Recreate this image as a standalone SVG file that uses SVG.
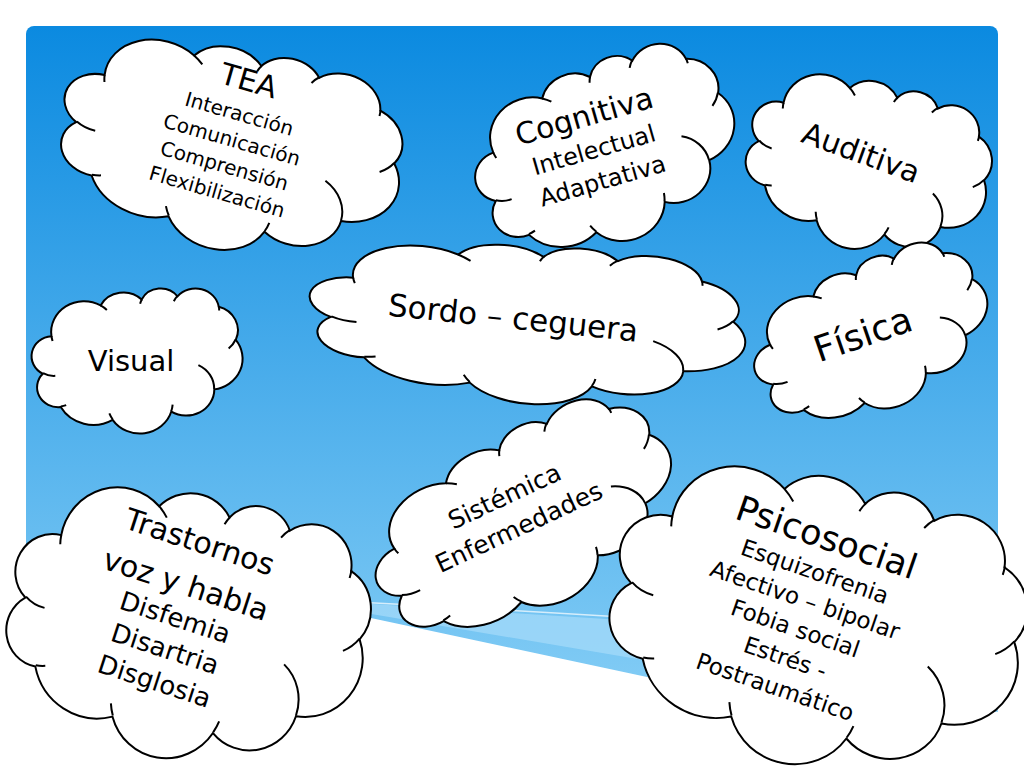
<svg xmlns="http://www.w3.org/2000/svg" xmlns:xlink="http://www.w3.org/1999/xlink" width="1024" height="768" viewBox="0 0 1024 768">
<style>
.t{font-family:"DejaVu Sans","Liberation Sans",sans-serif;fill:#000;text-anchor:middle}
</style>
<defs>
<linearGradient id="bg" gradientUnits="userSpaceOnUse" x1="0" y1="26" x2="0" y2="690">
<stop offset="0" stop-color="#0b8ae0"/>
<stop offset="1" stop-color="#82ccf5"/>
</linearGradient>
<g id="cloud">
<path fill="#fff" stroke="#000" stroke-width="2" vector-effect="non-scaling-stroke" d="M9.03,33.26 A15.63,21.27 0 0 1 32.42,12.04 A12.34,16.82 0 0 1 51.98,7.95 A10.10,13.76 0 0 1 69.06,5.74 A11.24,15.27 0 0 1 88.70,12.91 A12.34,16.84 0 0 1 96.80,35.79 A15.68,21.34 0 0 1 86.58,69.91 A13.39,18.21 0 0 1 66.10,85.22 A15.63,21.33 0 0 1 38.15,90.90 A17.87,24.41 0 0 1 13.44,82.11 A10.09,13.70 0 0 1 4.89,59.15 A10.06,13.76 0 0 1 9.03,33.26 Z"/>
<path fill="none" stroke="#000" stroke-width="2" vector-effect="non-scaling-stroke" d="M10.86,60.60 A10.06,13.76 0 0 1 5.00,58.75 M16.04,80.78 A10.09,13.70 0 0 1 13.47,81.67 M38.14,90.49 A15.63,21.33 0 0 1 36.59,86.45 M66.73,80.44 A15.63,21.33 0 0 1 66.11,84.86 M79.00,53.13 A13.39,18.21 0 0 1 86.53,69.65 M96.75,35.54 A12.34,16.84 0 0 1 93.40,41.74 M88.71,12.56 A11.24,15.27 0 0 1 88.89,15.49 M67.31,9.15 A11.24,15.27 0 0 1 69.03,5.42 M51.25,10.93 A10.10,13.76 0 0 1 52.08,7.71 M32.41,12.02 A15.63,21.27 0 0 1 35.41,15.14 M9.55,36.55 A15.63,21.27 0 0 1 9.03,33.27"/>
</g>
</defs>

<g id="background">
<rect x="0" y="0" width="1024" height="768" fill="#fff"/>
<rect x="26" y="26" width="972" height="760" rx="8" fill="url(#bg)"/>
<path d="M277,598 L998,644 L998,720 L277,598 Z" fill="#a6dbf9" opacity="0.7"/>
<path d="M277,598 Q480,608 700,622" fill="none" stroke="#fff" stroke-width="1.5" opacity="0.7"/>
<path d="M20,543 L647,677 Q820,714 1000,712 L1000,768 L20,768 Z" fill="#fff"/>
</g>

<g id="connectors"></g>

<g id="tea" transform="translate(230,146.5) rotate(16)">
<use xlink:href="#cloud" transform="translate(-171.4,-102.3) scale(3.45,2.05)"/>
<text class="t" font-size="30" x="0" y="-58">TEA</text>
<text class="t" font-size="20" x="0" y="-27">Interacción</text>
<text class="t" font-size="20" x="0" y="0">Comunicación</text>
<text class="t" font-size="20" x="0" y="27">Comprensión</text>
<text class="t" font-size="20" x="0" y="54">Flexibilización</text>
</g>

<g id="cognitiva" transform="translate(596,158) rotate(-16)">
<use xlink:href="#cloud" transform="translate(-121.2,-94) scale(2.65,1.82)"/>
<text class="t" font-size="30" x="0" y="-33">Cognitiva</text>
<text class="t" font-size="24" x="0" y="0">Intelectual</text>
<text class="t" font-size="24" x="0" y="32">Adaptativa</text>
</g>

<g id="auditiva" transform="translate(857.5,162.5) rotate(20)">
<use xlink:href="#cloud" transform="translate(-112.1,-88.1) scale(2.45,1.72)"/>
<text class="t" font-size="30" x="0" y="0">Auditiva</text>
</g>

<g id="sordoceguera" transform="translate(512,328.5) rotate(6)">
<use xlink:href="#cloud" transform="translate(-202.7,-87.2) scale(4.36,1.6)"/>
<text class="t" font-size="31" x="0" y="0">Sordo – ceguera</text>
</g>

<g id="visual" transform="translate(131,371)">
<use xlink:href="#cloud" transform="translate(-98.5,-83) scale(2.1,1.45)"/>
<text class="t" font-size="29" x="0" y="0">Visual</text>
</g>

<g id="fisica" transform="translate(867,346) rotate(-19)">
<use xlink:href="#cloud" transform="translate(-113.05,-82.3) scale(2.42,1.49)"/>
<text class="t" font-size="36" x="0" y="0">Física</text>
</g>

<g id="sistemica" transform="translate(522.5,535) rotate(-25)">
<use xlink:href="#cloud" transform="translate(-150.6,-100.6) scale(3.18,1.77)"/>
<text class="t" font-size="25" x="0" y="-34">Sistémica</text>
<text class="t" font-size="25" x="0" y="0">Enfermedades</text>
</g>

<g id="trastornos" transform="translate(172.5,626) rotate(18)">
<use xlink:href="#cloud" transform="translate(-166.4,-142.5) scale(3.6,2.72)"/>
<text class="t" font-size="30" x="0" y="-78">Trastornos</text>
<text class="t" font-size="30" x="0" y="-33">voz y habla</text>
<text class="t" font-size="26" x="0" y="0">Disfemia</text>
<text class="t" font-size="26" x="0" y="33">Disartria</text>
<text class="t" font-size="26" x="0" y="67">Disglosia</text>
</g>

<g id="psicosocial" transform="translate(802.5,607.5) rotate(19)">
<use xlink:href="#cloud" transform="translate(-190.2,-141.8) scale(4.15,2.95)"/>
<text class="t" font-size="35" x="0" y="-62">Psicosocial</text>
<text class="t" font-size="23" x="0" y="-30">Esquizofrenia</text>
<text class="t" font-size="23" x="0" y="0">Afectivo – bipolar</text>
<text class="t" font-size="23" x="0" y="30">Fobia social</text>
<text class="t" font-size="23" x="0" y="61">Estrés -</text>
<text class="t" font-size="23" x="0" y="92">Postraumático</text>
</g>
</svg>
